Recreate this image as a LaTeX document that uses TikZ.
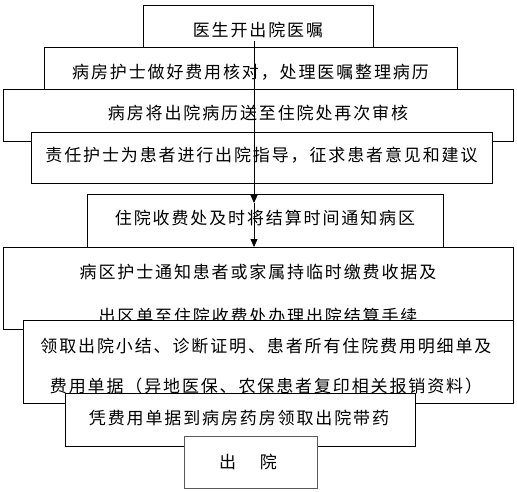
\documentclass[tikz,border=0pt]{standalone}
\usepackage{fontspec}
\newfontfamily\cjk[LetterSpace=11]{Noto Sans CJK SC}
\usetikzlibrary{fit,arrows.meta}
\tikzset{
  box/.style={draw, fill=white, line width=0.8pt, inner sep=0pt, outer sep=0pt},
  lbl/.style={font=\cjk\fontsize{17}{20}\selectfont, inner sep=0pt, align=center},
  arr/.style={line width=0.8pt, -{Triangle[width=7pt,length=8pt]}}
}
\begin{document}
\begin{tikzpicture}[x=1pt,y=-1pt]
\useasboundingbox (0,0) rectangle (517,492);
\node[box, fit={(143,5) (373,47)}] (b1) {};
\node[lbl] (t1) at (258,30) {医生开出院医嘱};
\node[box, fit={(44,47) (457,89)}] (b2) {};
\node[lbl] (t2) at (250.5,72) {病房护士做好费用核对，处理医嘱整理病历};
\node[box, fit={(3,89) (513,141)}] (b3) {};
\node[lbl] (t3) at (258,113.5) {病房将出院病历送至住院处再次审核};
\node[box, fit={(31,132) (492,183)}] (b4) {};
\node[lbl] (t4) at (261.5,155) {责任护士为患者进行出院指导，征求患者意见和建议};
\node[box, fit={(87,194) (443,252)}] (b5) {};
\node[lbl] (t5) at (265,218) {住院收费处及时将结算时间通知病区};
\node[box, fit={(3,247) (513,329)}] (b6) {};
\node[lbl, font=\cjk\fontsize{17}{44}\selectfont] (t6) at (258,294) {病区护士通知患者或家属持临时缴费收据及\\出区单至住院收费处办理出院结算手续};
\node[box, fit={(23,320) (513,403)}] (b7) {};
\node[lbl, font=\cjk\fontsize{17}{40}\selectfont] (t7) at (266,366) {领取出院小结、诊断证明、患者所有住院费用明细单及\\费用单据（异地医保、农保患者复印相关报销资料）};
\node[box, fit={(65,393) (415,446)}] (b8) {};
\node[lbl] (t8) at (239,418) {凭费用单据到病房药房领取出院带药};
\node[box, draw=black!65, fit={(184,436) (317,488)}] (b9) {};
\node[lbl] (t9) at (248,462) {出\hspace{24pt}院};
\coordinate (c0) at (254,41);
\coordinate (c1) at (254,203);
\draw[arr] (c0) -- (c1);
\draw[arr] (c1) -- (c1 |- b6.north);
\end{tikzpicture}
\end{document}
